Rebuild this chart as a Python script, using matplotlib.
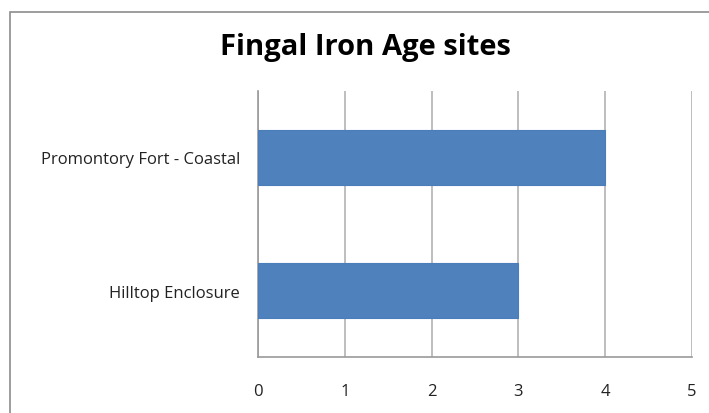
import matplotlib
matplotlib.use("Agg")
from matplotlib import pyplot as plt
from matplotlib.patches import Rectangle

categories = ["Hilltop Enclosure", "Promontory Fort - Coastal"]
counts = [3, 4]
xticks = [0, 1, 2, 3, 4, 5]

plt.rcParams["font.family"] = ["Open Sans", "DejaVu Sans"]

fig = plt.figure(figsize=(7.09, 4.14), dpi=100)
fig.patch.set_facecolor("white")

# chart frame, runs off the right and bottom edge like the original
fig.patches.append(Rectangle((10 / 709, -0.2), 1.2, 0.2 + (414 - 12.5) / 414,
                             transform=fig.transFigure, fill=False,
                             edgecolor="#8c8c8c", linewidth=1.2, clip_on=False))

ax = fig.add_axes([258 / 709, (414 - 358) / 414, 434 / 709, 266 / 414])
ax.barh(range(len(categories)), counts, height=0.41, color="#4f81bd",
        edgecolor="#4a7ebb", linewidth=0.8, zorder=3)

ax.set_xlim(0, 5)
ax.set_ylim(-0.5, 1.5)
ax.set_xticks(xticks)
ax.set_xticklabels([str(t) for t in xticks])
ax.set_yticks(range(len(categories)))
ax.set_yticklabels(categories)
ax.tick_params(axis="x", length=0, pad=19, labelsize=12, labelcolor="#222222")
ax.tick_params(axis="y", length=0, pad=13, labelsize=12, labelcolor="#222222")
ax.grid(axis="x", color="#b3b3b3", linewidth=1.2, zorder=0)
ax.grid(axis="y", visible=False)
for side in ["top", "right"]:
    ax.spines[side].set_visible(False)
for side in ["left", "bottom"]:
    ax.spines[side].set_color("#999999")
    ax.spines[side].set_linewidth(1.2)

fig.text(365 / 709, 1 - 47 / 414, "Fingal Iron Age sites", ha="center",
         va="center", fontsize=21, fontweight="bold", color="black")

plt.savefig("out.png", dpi=100)
plt.close()
